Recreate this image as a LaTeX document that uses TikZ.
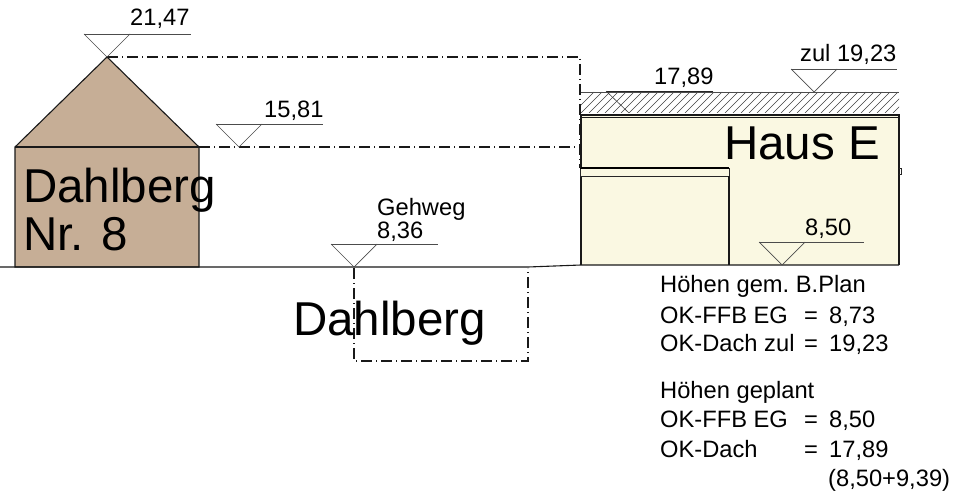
\documentclass[tikz,border=0pt]{standalone}
\usepackage{fontspec}
\setmainfont{Liberation Sans}
\definecolor{brownfill}{RGB}{198,174,150}
\definecolor{creamfill}{RGB}{250,248,226}
\tikzset{
 x=1pt,y=-1pt,
 dimline/.style={draw=black!90,line width=1.3pt,dash pattern=on 11pt off 4pt on 1pt off 4pt},
 lev/.style={draw=black!70,line width=0.7pt},
 outl/.style={draw=black!90,line width=1.1pt},
 lab/.style={anchor=base west,inner sep=0pt,font=\fontsize{23.7}{25}\selectfont\frenchspacing},
 big/.style={anchor=base west,inner sep=0pt,font=\fontsize{47.5}{50}\selectfont},
}
\newcommand{\levelmark}[3]{% apex x, apex y, line end x
 \draw[lev] (#1-23,#2-23) -- (#3,#2-23);
 \draw[lev] (#1-23,#2-23) -- (#1,#2) -- (#1+23,#2-23);
}
\begin{document}
\begin{tikzpicture}
\useasboundingbox (0,0) rectangle (958,497);
% Dahlberg Nr 8
\filldraw[outl,fill=brownfill] (107,57) -- (199,147) -- (199,267) -- (15,267) -- (15,147) -- cycle;
\draw[outl] (15,147) -- (199,147);
% Haus E
\fill[creamfill] (581,115) rectangle (899,265);
\draw[outl] (581,265) -- (581,115) -- (899,115) -- (899,265);
\draw[outl] (581,117.5) -- (899,117.5);
\begin{scope}
\clip (581,92) rectangle (899,113);
\foreach \i in {0,8,...,344}{
  \draw[black!75,line width=0.6pt] (581+\i-8,113) -- (581+\i+13,92);
}
\end{scope}
\draw[draw=black!70,line width=0.4pt] (581,92) -- (899,92);
% lower box
\filldraw[draw=black!85,line width=0.8pt,fill=creamfill] (580,168) rectangle (729,176);
\draw[black,line width=2pt] (580,168) -- (729,168);
\draw[outl] (729,176) -- (729,265);
\draw[black!85,line width=0.6pt] (899,168) -- (901,168) -- (901,174) -- (899,174);
% ground
\coordinate (g0) at (0,267);
\coordinate (g1) at (528,267);
\coordinate (g2) at (581,265);
\coordinate (g3) at (899,265);
\draw[outl] (g0) -- (g1) -- (g2) -- (g3);
% dash-dot lines
\draw[dimline] (107,57) -- (580,57) -- (580,168);
\draw[dimline] (199,147) -- (580,147);
\draw[dimline] (354,268) -- (354,361) -- (528,361) -- (528,268);
% levels
\levelmark{107}{57}{191}
\levelmark{239}{147}{323}
\levelmark{354}{267}{438}
\levelmark{782}{265}{864}
\levelmark{814}{92}{897}
\draw[black!85,line width=0.8pt] (606,91) -- (713,91);
\draw[black!75,line width=0.6pt] (606,91) -- (629,113);
% labels
\node[lab] (t1) at (130,26) {21,47};
\node[lab] (t2) at (264,118) {15,81};
\node[lab] (t3) at (377,215) {Gehweg};
\node[lab] (t4) at (377,238) {8,36};
\node[lab] (t5) at (654,85) {17,89};
\node[lab] (t6) at (800,62) {zul 19,23};
\node[lab] (t7) at (805,235) {8,50};
\node[big] (b1) at (23,203) {Dahlberg};
\node[big] (b2) at (23,251) {Nr. 8};
\node[big] (b3) at (293,335) {Dahlberg};
\node[big] (b4) at (724,160) {Haus E};
\node[lab] (h1) at (660,292) {Höhen gem. B.Plan};
\node[lab] (h2) at (660,323) {OK-FFB EG};
\node[lab] (h2b) at (804,323) {=};
\node[lab] (h2c) at (829,323) {8,73};
\node[lab] (h3) at (660,351) {OK-Dach zul};
\node[lab] (h3b) at (804,351) {=};
\node[lab] (h3c) at (829,351) {19,23};
\node[lab] (h4) at (660,398) {Höhen geplant};
\node[lab] (h5) at (660,427) {OK-FFB EG};
\node[lab] (h5b) at (804,427) {=};
\node[lab] (h5c) at (829,427) {8,50};
\node[lab] (h6) at (660,457) {OK-Dach};
\node[lab] (h6b) at (804,457) {=};
\node[lab] (h6c) at (829,457) {17,89};
\node[lab] (h7) at (828,486) {(8,50+9,39)};
\end{tikzpicture}
\end{document}
